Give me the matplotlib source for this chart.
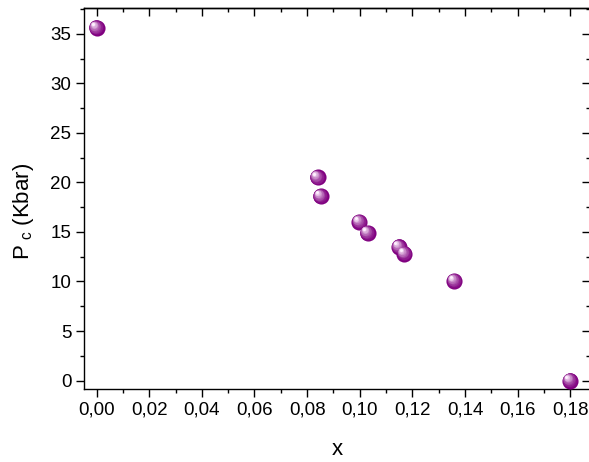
import matplotlib

matplotlib.use("Agg")

import matplotlib.pyplot as plt
import matplotlib.transforms as mtransforms
from matplotlib.ticker import MultipleLocator, FuncFormatter, NullFormatter
import numpy as np

# data
x_vals = [0.000, 0.084, 0.0852, 0.0999, 0.103, 0.115, 0.117, 0.136, 0.180]
pc_vals = [35.6, 20.5, 18.6, 16.0, 14.9, 13.5, 12.8, 10.05, 0.0]

plt.rcParams["font.family"] = ["Liberation Sans", "DejaVu Sans"]
plt.rcParams["mathtext.default"] = "regular"

fig = plt.figure(figsize=(5.89, 4.62), dpi=100)
ax = fig.add_axes([0.1426, 0.158, 0.859, 0.8247])

# fake 3D ball: dark purple disc, then lighter shrinking discs shifted up-left
base = np.array([0.50, 0.0, 0.50])
light = np.array([1.0, 0.95, 1.0])
n_layers = 10
for k in range(n_layers):
    t = k / (n_layers - 1)
    size = 11.6 * (1 - 0.82 * t)
    col = base * (1 - t ** 1.4) + light * t ** 1.4
    dx = -2.8 * t / 72
    dy = 2.8 * t / 72
    off = mtransforms.ScaledTranslation(dx, dy, fig.dpi_scale_trans)
    ax.plot(x_vals, pc_vals, linestyle="none", marker="o",
            markersize=size, markerfacecolor=col, markeredgewidth=0,
            transform=ax.transData + off, zorder=3 + k, clip_on=False)

ax.set_xlim(-0.0048, 0.1875)
ax.set_ylim(-0.85, 37.6)

fmt = FuncFormatter(lambda v, p: f"{v:.2f}".replace(".", ","))
ax.xaxis.set_major_locator(MultipleLocator(0.02))
ax.xaxis.set_minor_locator(MultipleLocator(0.01))
ax.xaxis.set_major_formatter(fmt)
ax.yaxis.set_major_locator(MultipleLocator(5))
ax.yaxis.set_minor_locator(MultipleLocator(2.5))

ax.tick_params(which="major", direction="out", length=6, width=1.0,
               labelsize=13.5, pad=3)
ax.tick_params(which="minor", direction="out", length=3, width=1.0)

# inward ticks on top and right
top = ax.secondary_xaxis("top")
top.xaxis.set_major_locator(MultipleLocator(0.02))
top.xaxis.set_minor_locator(MultipleLocator(0.01))
top.xaxis.set_major_formatter(NullFormatter())
top.tick_params(which="major", direction="in", length=6, width=1.0)
top.tick_params(which="minor", direction="in", length=3, width=1.0)

right = ax.secondary_yaxis("right")
right.yaxis.set_major_locator(MultipleLocator(5))
right.yaxis.set_minor_locator(MultipleLocator(2.5))
right.yaxis.set_major_formatter(NullFormatter())
right.tick_params(which="major", direction="in", length=6, width=1.0)
right.tick_params(which="minor", direction="in", length=3, width=1.0)

for s in ax.spines.values():
    s.set_linewidth(1.0)
top.spines["top"].set_linewidth(1.0)
right.spines["right"].set_linewidth(1.0)

ax.set_xlabel("x", fontsize=16, labelpad=15)
ax.set_ylabel("P$_{\\ c}$ (Kbar)", fontsize=16)
ax.yaxis.set_label_coords(-0.095, 0.465)

plt.savefig("out.png", dpi=100)
plt.close()
